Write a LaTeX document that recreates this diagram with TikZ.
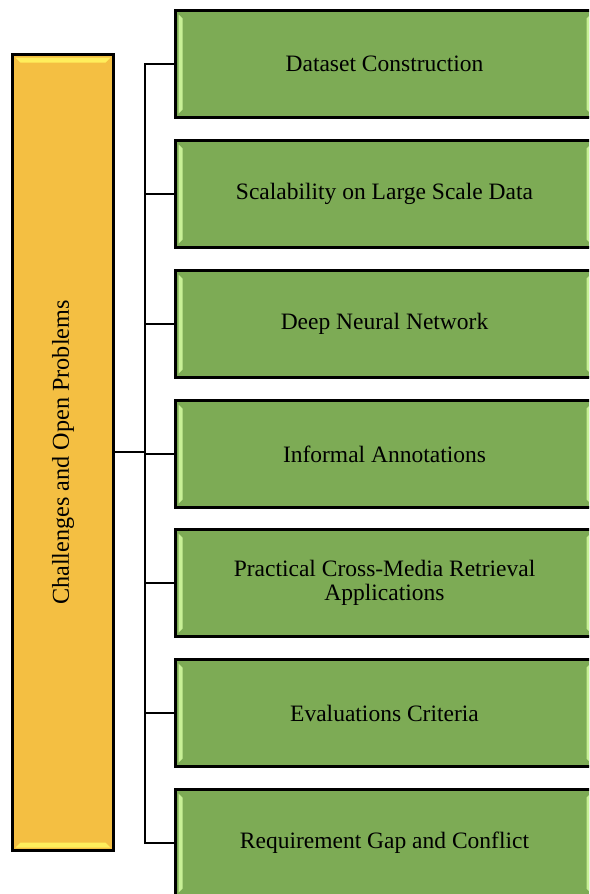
\documentclass[tikz,border=0pt]{standalone}
\usepackage{fontspec}
\setmainfont{Liberation Serif}
\usetikzlibrary{calc}
\definecolor{leafgreen}{RGB}{125,171,85}
\definecolor{leafhl}{RGB}{200,240,150}
\definecolor{rootyellow}{RGB}{244,191,66}
\definecolor{roothl}{RGB}{255,238,92}
\begin{document}
\begin{tikzpicture}[x=1pt,y=-1pt,
  leaf/.style={draw=black, line width=3pt, fill=leafgreen, outer sep=0pt,
    minimum width=418pt, minimum height=107pt, anchor=north west, inner sep=0pt,
    text width=380pt, align=flush center, font=\fontsize{23.5}{24}\selectfont},
  root/.style={draw=black, line width=3pt, fill=rootyellow, outer sep=0pt,
    minimum width=101pt, minimum height=796pt, anchor=north west, inner sep=0pt,
    font=\fontsize{24.2}{25}\selectfont},
  wire/.style={draw=black, line width=1.4pt}]
\useasboundingbox (0,0) rectangle (589,894);
\clip (0,0) rectangle (589,894);

% root box
\node[root] (root) at (12.5,54.5) {\rotatebox{90}{Challenges and Open Problems}};
\fill[roothl] ($(root.north west)+(3,3)$) -- ($(root.north east)+(-3,3)$)
  -- ($(root.north east)+(-8,8)$) -- ($(root.north west)+(8,8)$) -- cycle;
\fill[roothl] ($(root.south west)+(3,-3)$) -- ($(root.south east)+(-3,-3)$)
  -- ($(root.south east)+(-8,-8)$) -- ($(root.south west)+(8,-8)$) -- cycle;

% leaf boxes
\node[leaf] (l1) at (175.5,10.5)  {Dataset Construction};
\node[leaf] (l2) at (175.5,140.5) {Scalability on Large Scale Data};
\node[leaf] (l3) at (175.5,270.5) {Deep Neural Network};
\node[leaf] (l4) at (175.5,400.5) {Informal Annotations};
\node[leaf] (l5) at (175.5,529.5) {Practical Cross-Media Retrieval\\Applications};
\node[leaf] (l6) at (175.5,659.5) {Evaluations Criteria};
\node[leaf] (l7) at (175.5,789.5) {Requirement Gap and Conflict};

% side highlights of the leaf boxes
\foreach \n in {l1,l2,l3,l4,l5,l6,l7}{
  \fill[leafhl] ($(\n.north west)+(3,4)$) -- ($(\n.north west)+(7,8)$)
    -- ($(\n.south west)+(7,-8)$) -- ($(\n.south west)+(3,-4)$) -- cycle;
  \fill[leafhl] ($(\n.north east)+(-3,4)$) -- ($(\n.north east)+(-7,8)$)
    -- ($(\n.south east)+(-7,-8)$) -- ($(\n.south east)+(-3,-4)$) -- cycle;
}

% connectors
\coordinate (bus) at (145,452);
\draw[wire] (root.east |- bus) -- (bus);
\draw[wire] (l1.west) -- (l1.west -| bus) -- (l7.west -| bus) -- (l7.west);
\foreach \n in {l2,l3,l4,l5,l6}{
  \draw[wire] (\n.west -| bus) -- (\n.west);
}
\end{tikzpicture}
\end{document}
